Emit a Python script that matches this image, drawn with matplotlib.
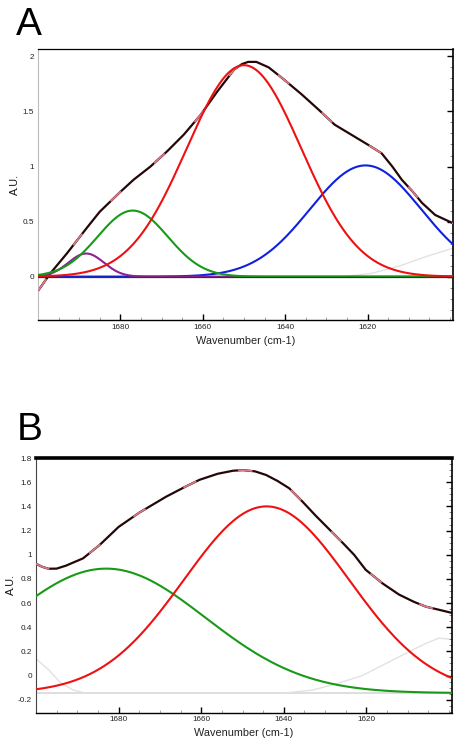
import numpy as np
import matplotlib.pyplot as plt
from matplotlib.ticker import MultipleLocator, FixedLocator

plt.rcParams['font.family'] = ['Liberation Sans', 'DejaVu Sans']

# ---- Panel A: measured spectrum (wavenumber, absorbance) ----
a_wn = [1700, 1698.5, 1697, 1695, 1693, 1690.5, 1688, 1685, 1682.5, 1680, 1676.8,
        1672.7, 1668.6, 1664.6, 1660.5, 1656.5, 1652.4, 1650.5, 1649, 1647, 1644,
        1640.3, 1636, 1632, 1628, 1624, 1620, 1616.6, 1614, 1611.7, 1609, 1606.8,
        1603.6, 1599]
a_total = [-0.13, -0.05, 0.03, 0.12, 0.21, 0.33, 0.45, 0.59, 0.68, 0.77, 0.88,
           1.0, 1.14, 1.29, 1.47, 1.68, 1.88, 1.93, 1.95, 1.95, 1.90,
           1.79, 1.655, 1.52, 1.38, 1.29, 1.2, 1.12, 1.0, 0.88, 0.77, 0.67,
           0.56, 0.48]
# fitted bands: centre, height, width (sigma)
a_centers = [1620.5, 1688.3, 1677.0, 1650.0]
a_heights = [1.01, 0.21, 0.60, 1.92]
a_widths = [13.5, 4.3, 8.5, 13.9]
a_colors = ['#1020e0', '#8e1f95', '#179a17', '#ee1111']
# faint residual trace
a_faint_wn = [1626, 1619, 1612, 1606, 1600, 1599]
a_faint = [0.0, 0.03, 0.10, 0.18, 0.25, 0.26]
a_yticks = [0, 0.5, 1, 1.5, 2]
a_ylabels = ['0', '0.5', '1', '1.5', '2']

# ---- Panel B ----
b_wn = [1700, 1698.5, 1697, 1695, 1692.7, 1688.6, 1684.6, 1680, 1674.9, 1668.5,
        1664, 1660.4, 1656, 1652.3, 1649.9, 1647, 1644.3, 1641.5, 1638.7, 1635.5,
        1632.2, 1629, 1625.8, 1623, 1620.2, 1616, 1612.1, 1608.5, 1605.6, 1602.5,
        1599.5]
b_total = [0.925, 0.90, 0.884, 0.885, 0.91, 0.97, 1.08, 1.23, 1.35, 1.48,
           1.56, 1.62, 1.67, 1.695, 1.70, 1.69, 1.66, 1.61, 1.55, 1.44,
           1.32, 1.21, 1.10, 1.0, 0.876, 0.76, 0.67, 0.61, 0.57, 0.545,
           0.52]
b_centers = [1683.0, 1644.2]
b_heights = [1.03, 1.545]
b_widths = [24.0, 20.0]
b_colors = ['#179a17', '#ee1111']
b_base = -0.145
b_faint1_wn = [1700, 1697, 1694, 1691, 1688]
b_faint1 = [0.14, 0.05, -0.06, -0.12, -0.145]
b_faint2_wn = [1640, 1633, 1627, 1621, 1613, 1606, 1602.5, 1599.5]
b_faint2 = [-0.145, -0.12, -0.065, 0.0, 0.14, 0.26, 0.31, 0.30]
b_yticks = [-0.2, 0, 0.2, 0.4, 0.6, 0.8, 1.0, 1.2, 1.4, 1.6, 1.8]
b_ylabels = ['-0.2', '0', '0.2', '0.4', '0.6', '0.8', '1', '1.2', '1.4', '1.6', '1.8']

x_ticks = [1680, 1660, 1640, 1620]


def band(x, c, h, w, base=0.0):
    return base + h * np.exp(-0.5 * ((x - c) / w) ** 2)


def style_axes(ax, ylim, yticks, ylabels, yminor, left_col, top_lw):
    ax.set_xlim(1700, 1599.3)
    ax.set_ylim(*ylim)
    ax.xaxis.set_major_locator(FixedLocator(x_ticks))
    ax.xaxis.set_minor_locator(MultipleLocator(5))
    ax.set_yticks(yticks)
    ax.set_yticklabels(ylabels)
    ax.yaxis.set_minor_locator(MultipleLocator(yminor))
    ax.tick_params(axis='x', which='major', direction='in', length=4, width=1,
                   labelsize=5.9, pad=2.5, labelcolor='#222')
    ax.tick_params(axis='x', which='minor', direction='in', length=2, width=0.6,
                   color='#999')
    ax.tick_params(axis='y', which='both', left=False, right=True, direction='in',
                   labelleft=True, labelsize=5.9, pad=3, labelcolor='#222')
    ax.tick_params(axis='y', which='major', length=4, width=1)
    ax.tick_params(axis='y', which='minor', length=2, width=0.6, color='#777')
    ax.spines['left'].set_color(left_col)
    ax.spines['left'].set_linewidth(0.8)
    ax.spines['top'].set_linewidth(top_lw)
    ax.spines['right'].set_linewidth(1.2)
    ax.spines['bottom'].set_linewidth(1.0)
    ax.set_xlabel('Wavenumber (cm-1)', fontsize=7.8, color='#222')
    ax.set_ylabel('A.U.', fontsize=7.8, color='#111')


fig = plt.figure(figsize=(4.61, 7.46), dpi=100)

# ---- A ----
axA = fig.add_axes([0.0824, 0.571, 0.900, 0.3633])
x = np.linspace(1700, 1599, 500)
axA.plot(a_faint_wn, a_faint, color='#e2e2e2', lw=1, zorder=1)
axA.plot(a_wn, a_total, color='#240808', lw=1.6, zorder=2)
axA.plot(a_wn, a_total, color='#e07888', lw=1.3, dashes=(8, 24), zorder=3)
for c, h, w, col in zip(a_centers, a_heights, a_widths, a_colors):
    axA.plot(x, band(x, c, h, w), color=col, lw=1.5, zorder=4)
axA.axhline(0, color='#333', lw=0.9, zorder=4.5)
style_axes(axA, (-0.394, 2.067), a_yticks, a_ylabels, 0.1, '#bbbbbb', 0.9)
axA.xaxis.set_label_coords(0.5, -0.059)
axA.yaxis.set_label_coords(-0.043, 0.5)
fig.text(0.035, 0.953, 'A', fontsize=28, ha='left', va='baseline')

# ---- B ----
axB = fig.add_axes([0.078, 0.0442, 0.9024, 0.3418])
axB.axhline(b_base, color='#d4d4d4', lw=1.1, zorder=1)
axB.plot(b_faint1_wn, b_faint1, color='#e2e2e2', lw=1, zorder=1)
axB.plot(b_faint2_wn, b_faint2, color='#e2e2e2', lw=1, zorder=1)
axB.plot(b_wn, b_total, color='#240808', lw=1.6, zorder=2)
axB.plot(b_wn, b_total, color='#e07888', lw=1.3, dashes=(8, 24), zorder=3)
for c, h, w, col in zip(b_centers, b_heights, b_widths, b_colors):
    axB.plot(x, band(x, c, h, w, b_base), color=col, lw=1.5, zorder=4)
style_axes(axB, (-0.31, 1.8), b_yticks, b_ylabels, 0.05, '#444444', 2.6)
axB.xaxis.set_label_coords(0.5, -0.059)
axB.yaxis.set_label_coords(-0.048, 0.503)
fig.text(0.037, 0.410, 'B', fontsize=28, ha='left', va='baseline')

fig.savefig('out.png', dpi=100)
